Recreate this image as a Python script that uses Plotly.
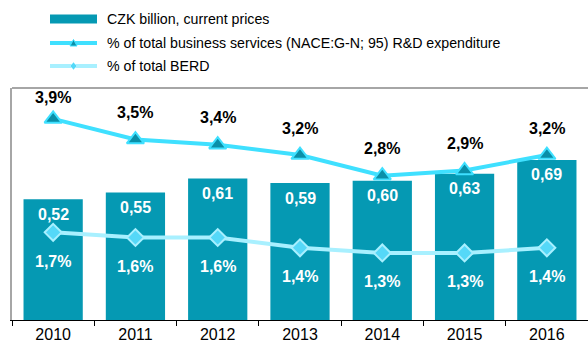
import plotly.graph_objects as go

# Czech business R&D expenditure in business services
years = ["2010", "2011", "2012", "2013", "2014", "2015", "2016"]
czk_bn = [0.52, 0.55, 0.61, 0.59, 0.60, 0.63, 0.69]          # CZK billion, current prices
share_services = [3.9, 3.5, 3.4, 3.2, 2.8, 2.9, 3.2]         # % of business services R&D
share_berd = [1.7, 1.6, 1.6, 1.4, 1.3, 1.3, 1.4]             # % of total BERD

legend_labels = [
    "CZK billion, current prices",
    "% of total business services (NACE:G-N; 95) R&D expenditure",
    "% of total BERD",
]

BAR = "#0599B3"
CYAN = "#3FE0FF"
CYAN_DARK = "#0A8FA8"
LIGHT = "#A8F0FF"
DIAMOND = "#55D8F8"
FRAME = "#A6A6A6"
FONT = "Liberation Sans, Arial, sans-serif"

W, H = 588, 347
L, R, T, B = 12, 0, 88, 27


def fmt(v, d):
    return f"{v:.{d}f}".replace(".", ",")


def px_x(x):
    return (x - L) / (W - L - R)


def px_y(y):
    return (H - B - y) / (H - T - B)


fig = go.Figure()

fig.add_trace(go.Bar(
    x=years, y=czk_bn, yaxis="y", width=0.72,
    marker=dict(color=BAR, line=dict(width=0)),
    showlegend=False, hoverinfo="skip",
))

fig.add_trace(go.Scatter(
    x=years, y=share_berd, yaxis="y2", mode="lines+markers",
    line=dict(color=LIGHT, width=4),
    marker=dict(symbol="diamond", size=13, color=DIAMOND,
                line=dict(color=LIGHT, width=2)),
    showlegend=False, hoverinfo="skip",
))

fig.add_trace(go.Scatter(
    x=years, y=share_services, yaxis="y2", mode="lines+markers",
    line=dict(color=CYAN, width=4),
    marker=dict(symbol="triangle-up", size=15, color=CYAN_DARK,
                line=dict(color=CYAN, width=2)),
    showlegend=False, hoverinfo="skip",
))

annotations = []
# value labels inside the bars (category index positions on the x axis)
for i, v in enumerate(czk_bn):
    annotations.append(dict(
        x=i, y=v, xref="x", yref="y", yshift=-15, text=f"<b>{fmt(v, 2)}</b>",
        showarrow=False, font=dict(family=FONT, size=16, color="white"),
        xanchor="center", yanchor="middle",
    ))
# labels above the business-services share line
for i, v in enumerate(share_services):
    annotations.append(dict(
        x=i, y=v, xref="x", yref="y2", yshift=21 if i == 0 else 27,
        text=f"<b>{fmt(v, 1)}%</b>", showarrow=False,
        font=dict(family=FONT, size=16, color="black"),
        xanchor="center", yanchor="middle",
    ))
# labels below the BERD share line
for i, v in enumerate(share_berd):
    annotations.append(dict(
        x=i, y=v, xref="x", yref="y2", yshift=-29,
        text=f"<b>{fmt(v, 1)}%</b>", showarrow=False,
        font=dict(family=FONT, size=16, color="white"),
        xanchor="center", yanchor="middle",
    ))

# hand-drawn legend above the plot
rows = [19, 43, 66]
x0, x1, xt = 50, 97, 105
xm = (x0 + x1) / 2
shapes = [
    # frame line along the top of the plot area
    dict(type="line", xref="paper", yref="paper", x0=0, x1=1, y0=1, y1=1,
         line=dict(color=FRAME, width=2)),
    dict(type="rect", xref="paper", yref="paper",
         x0=px_x(x0), x1=px_x(x1), y0=px_y(rows[0] + 4.5), y1=px_y(rows[0] - 4.5),
         fillcolor=BAR, line=dict(width=0)),
    dict(type="line", xref="paper", yref="paper",
         x0=px_x(x0), x1=px_x(x1), y0=px_y(rows[1]), y1=px_y(rows[1]),
         line=dict(color=CYAN, width=4)),
    dict(type="path", xref="paper", yref="paper",
         path=(f"M{px_x(xm - 3.5)},{px_y(rows[1] + 3)} L{px_x(xm + 3.5)},{px_y(rows[1] + 3)} "
               f"L{px_x(xm)},{px_y(rows[1] - 3.5)} Z"),
         fillcolor=CYAN_DARK, line=dict(color=CYAN, width=1)),
    dict(type="line", xref="paper", yref="paper",
         x0=px_x(x0), x1=px_x(x1), y0=px_y(rows[2]), y1=px_y(rows[2]),
         line=dict(color=LIGHT, width=4)),
    dict(type="path", xref="paper", yref="paper",
         path=(f"M{px_x(xm - 3.5)},{px_y(rows[2])} L{px_x(xm)},{px_y(rows[2] - 3.5)} "
               f"L{px_x(xm + 3.5)},{px_y(rows[2])} L{px_x(xm)},{px_y(rows[2] + 3.5)} Z"),
         fillcolor=DIAMOND, line=dict(color=LIGHT, width=1)),
]
for yrow, label in zip(rows, legend_labels):
    annotations.append(dict(
        x=px_x(xt), y=px_y(yrow), xref="paper", yref="paper", text=label,
        showarrow=False, xanchor="left", yanchor="middle",
        font=dict(family=FONT, size=14.2, color="black"),
    ))

fig.update_layout(
    width=W, height=H,
    margin=dict(l=L, r=R, t=T, b=B, pad=0),
    paper_bgcolor="white", plot_bgcolor="white",
    showlegend=False, bargap=0.28,
    font=dict(family=FONT, color="black"),
    xaxis=dict(
        type="category", range=[-0.5, 6.5], showgrid=False, zeroline=False,
        showline=True, linecolor="black", linewidth=1,
        ticks="outside", tickson="boundaries", ticklen=5, tickcolor="black",
        tickfont=dict(family=FONT, size=16, color="black"),
    ),
    yaxis=dict(
        range=[0, 1.0], showgrid=False, zeroline=False, showticklabels=False,
        ticks="", showline=True, linecolor=FRAME, linewidth=2,
    ),
    yaxis2=dict(range=[0, 4.5], overlaying="y", visible=False),
    shapes=shapes,
    annotations=annotations,
)

fig.write_html("out.html")
